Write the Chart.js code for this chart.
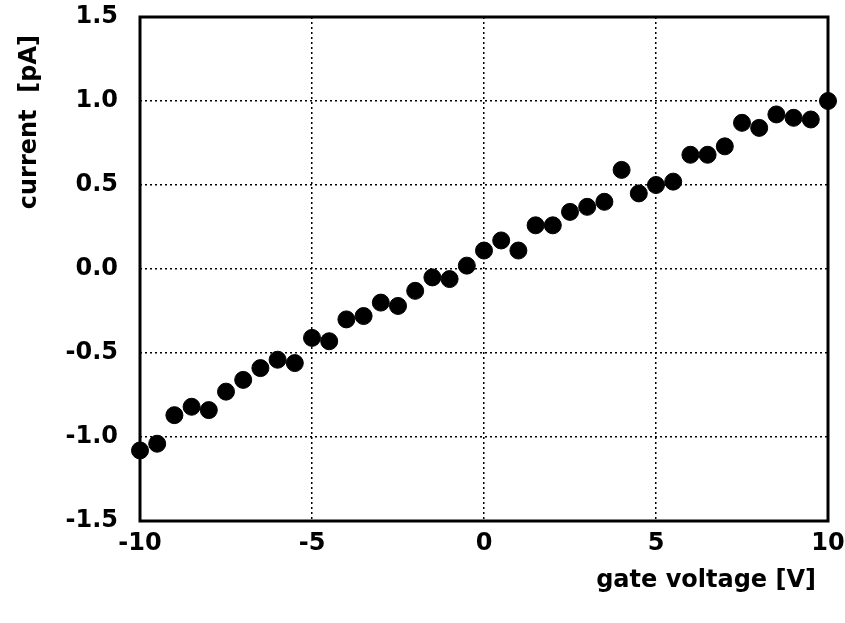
<!DOCTYPE html>
<html>
<head>
<meta charset="utf-8">
<script src="https://cdn.jsdelivr.net/npm/chart.js@4"></script>
<style>
  html, body { margin: 0; padding: 0; background: #fff; }
  #wrap { width: 845px; height: 623px; }
</style>
</head>
<body>
<div id="wrap"><canvas id="iv"></canvas></div>
<script>
// gate voltage [V]
const gateVoltage = [-10, -9.5, -9, -8.5, -8, -7.5, -7, -6.5, -6, -5.5, -5, -4.5, -4, -3.5, -3, -2.5, -2, -1.5, -1, -0.5,
  0, 0.5, 1, 1.5, 2, 2.5, 3, 3.5, 4, 4.5, 5, 5.5, 6, 6.5, 7, 7.5, 8, 8.5, 9, 9.5, 10];
// current [pA]
const current = [-1.08, -1.04, -0.87, -0.82, -0.84, -0.73, -0.66, -0.59, -0.54, -0.56, -0.41, -0.43, -0.30, -0.28, -0.20, -0.22, -0.13, -0.05, -0.06, 0.02,
  0.11, 0.17, 0.11, 0.26, 0.26, 0.34, 0.37, 0.40, 0.59, 0.45, 0.50, 0.52, 0.68, 0.68, 0.73, 0.87, 0.84, 0.92, 0.90, 0.89, 1.00];
const xTicks = [-10, -5, 0, 5, 10];
const yTicks = [-1.5, -1.0, -0.5, 0.0, 0.5, 1.0, 1.5];
const xTitle = 'gate voltage [V]';
const yTitle = 'current  [pA]';

const font = { family: 'DejaVu Sans', size: 24, weight: 'bold' };

const frameAndTitles = {
  id: 'frameAndTitles',
  afterDatasetsDraw(chart) {
    const { ctx, chartArea: a } = chart;
    ctx.save();
    ctx.strokeStyle = '#000';
    ctx.lineWidth = 3;
    ctx.strokeRect(a.left, a.top, a.right - a.left, a.bottom - a.top);
    ctx.fillStyle = '#000';
    ctx.font = 'bold 24px "DejaVu Sans"';
    ctx.textAlign = 'right';
    ctx.textBaseline = 'alphabetic';
    ctx.fillText(xTitle, a.right - 12, a.bottom + 66);
    ctx.translate(36, a.top + 18);
    ctx.rotate(-Math.PI / 2);
    ctx.textAlign = 'right';
    ctx.fillText(yTitle, 0, 0);
    ctx.restore();
  }
};

new Chart(document.getElementById('iv'), {
  type: 'scatter',
  data: {
    datasets: [{
      data: gateVoltage.map((v, i) => ({ x: v, y: current[i] })),
      backgroundColor: '#000',
      borderColor: '#000',
      pointRadius: 8.5,
      pointHoverRadius: 8.5,
      clip: false
    }]
  },
  options: {
    responsive: true,
    maintainAspectRatio: false,
    animation: false,
    layout: { padding: 0 },
    plugins: { legend: { display: false }, tooltip: { enabled: false } },
    scales: {
      x: {
        type: 'linear',
        min: -10, max: 10,
        afterBuildTicks: s => { s.ticks = xTicks.map(v => ({ value: v })); },
        afterFit: s => { s.height = 102; s.paddingRight = 17; s.paddingLeft = 0; },
        ticks: { color: '#000', font, padding: 8, maxRotation: 0, callback: v => String(v) },
        grid: { color: '#000', lineWidth: 1.5, drawTicks: false },
        border: { display: false, dash: [2, 3] }
      },
      y: {
        type: 'linear',
        min: -1.5, max: 1.5,
        afterBuildTicks: s => { s.ticks = yTicks.map(v => ({ value: v })); },
        afterFit: s => { s.width = 140; s.paddingTop = 17; s.paddingBottom = 0; },
        ticks: { color: '#000', font, padding: 22, callback: v => v.toFixed(1) },
        grid: { color: '#000', lineWidth: 1.5, drawTicks: false },
        border: { display: false, dash: [2, 3] }
      }
    }
  },
  plugins: [frameAndTitles]
});
</script>
</body>
</html>
